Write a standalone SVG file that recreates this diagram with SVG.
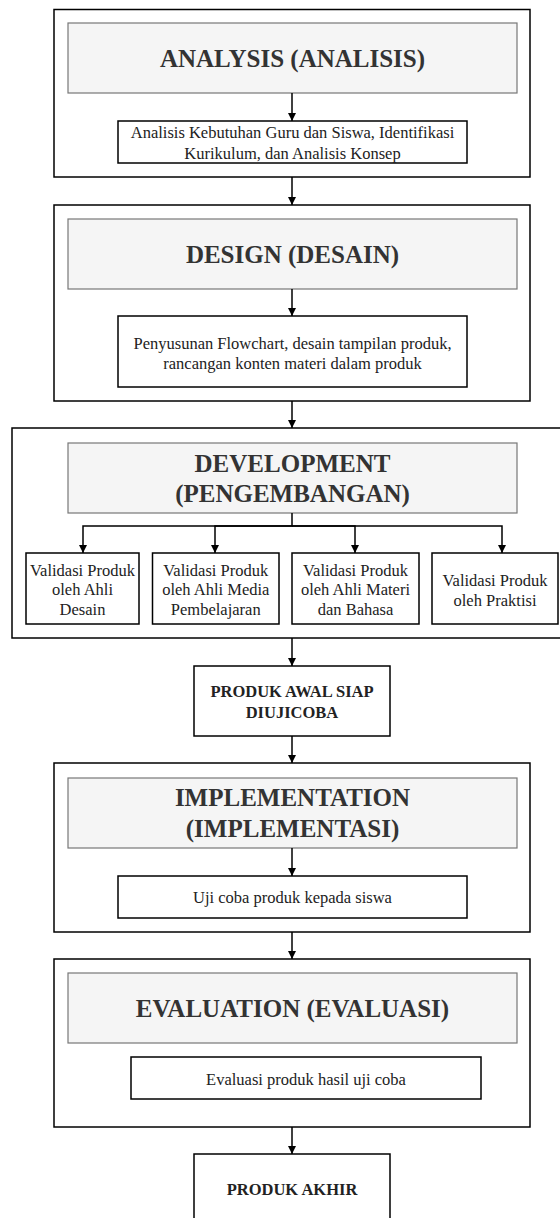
<svg xmlns="http://www.w3.org/2000/svg" width="560" height="1218" viewBox="0 0 560 1218">
<defs>
<marker id="ah" viewBox="0 0 10 10" refX="10" refY="5" markerWidth="5.5" markerHeight="5.5" orient="auto" markerUnits="strokeWidth">
<path d="M0,0 L10,5 L0,10 z" fill="#000"/>
</marker>
<style>
.outer{fill:#fff;stroke:#000;stroke-width:1.5}
.head{fill:#f5f5f5;stroke:#777;stroke-width:1.2}
.box{fill:#fff;stroke:#000;stroke-width:1.5}
text{font-family:'Liberation Serif',serif}
.ht{font-weight:bold;font-size:25px;fill:#333;text-anchor:middle}
.bt{font-weight:bold;font-size:16.5px;fill:#222;text-anchor:middle}
.t{font-size:16.5px;fill:#222;text-anchor:middle}
.c{fill:none;stroke:#000;stroke-width:1.5}
</style>
</defs>
<rect width="560" height="1218" fill="#fff"/>

<g font-family="Liberation Serif, serif">
<g id="analysis">
<rect class="outer" x="54" y="9.5" width="476" height="167.5"/>
<rect class="head" x="68" y="23" width="449" height="70"/>
<text class="ht" x="292.5" y="66.5">ANALYSIS (ANALISIS)</text>
</g>
<g id="analysis-task">
<rect class="box" x="118" y="121" width="349" height="42"/>
<text class="t" x="292.5" y="138">Analisis Kebutuhan Guru dan Siswa, Identifikasi</text>
<text class="t" x="292.5" y="158.5">Kurikulum, dan Analisis Konsep</text>
</g>

<g id="design">
<rect class="outer" x="54" y="205" width="476" height="196"/>
<rect class="head" x="68" y="219" width="449" height="70"/>
<text class="ht" x="292.5" y="263">DESIGN (DESAIN)</text>
</g>
<g id="design-task">
<rect class="box" x="118" y="316" width="349" height="71"/>
<text class="t" x="292.5" y="348.5">Penyusunan Flowchart, desain tampilan produk,</text>
<text class="t" x="292.5" y="368.5">rancangan konten materi dalam produk</text>
</g>

<g id="development">
<rect class="outer" x="12" y="428" width="560" height="210"/>
<rect class="head" x="68" y="443" width="449" height="70"/>
<text class="ht" x="292.5" y="471.5">DEVELOPMENT</text>
<text class="ht" x="292.5" y="501.5">(PENGEMBANGAN)</text>
</g>
<g id="val-desain">
<rect class="box" x="26" y="553" width="113" height="71"/>
<text class="t" x="82.5" y="575.5">Validasi Produk</text>
<text class="t" x="82.5" y="595">oleh Ahli</text>
<text class="t" x="82.5" y="615">Desain</text>
</g>
<g id="val-media">
<rect class="box" x="152.5" y="553" width="126.5" height="71"/>
<text class="t" x="215.75" y="575.5">Validasi Produk</text>
<text class="t" x="215.75" y="595">oleh Ahli Media</text>
<text class="t" x="215.75" y="615">Pembelajaran</text>
</g>
<g id="val-materi">
<rect class="box" x="292" y="553" width="127" height="71"/>
<text class="t" x="355.5" y="575.5">Validasi Produk</text>
<text class="t" x="355.5" y="595">oleh Ahli Materi</text>
<text class="t" x="355.5" y="615">dan Bahasa</text>
</g>
<g id="val-praktisi">
<rect class="box" x="432" y="553" width="126" height="71"/>
<text class="t" x="495" y="585.5">Validasi Produk</text>
<text class="t" x="495" y="606">oleh Praktisi</text>
</g>

<g id="produk-awal">
<rect class="box" x="194" y="666" width="196" height="70"/>
<text class="bt" x="292" y="697">PRODUK AWAL SIAP</text>
<text class="bt" x="292" y="718">DIUJICOBA</text>
</g>

<g id="implementation">
<rect class="outer" x="54" y="763" width="476" height="169"/>
<rect class="head" x="68" y="778" width="449" height="70"/>
<text class="ht" x="292.5" y="805.5">IMPLEMENTATION</text>
<text class="ht" x="292.5" y="837">(IMPLEMENTASI)</text>
</g>
<g id="implementation-task">
<rect class="box" x="118" y="876" width="349" height="42"/>
<text class="t" x="292.5" y="902.5">Uji coba produk kepada siswa</text>
</g>

<g id="evaluation">
<rect class="outer" x="54" y="959" width="476" height="168"/>
<rect class="head" x="68" y="973" width="449" height="70"/>
<text class="ht" x="292.5" y="1017">EVALUATION (EVALUASI)</text>
</g>
<g id="evaluation-task">
<rect class="box" x="131" y="1057" width="350" height="42"/>
<text class="t" x="306" y="1084.5">Evaluasi produk hasil uji coba</text>
</g>

<g id="produk-akhir">
<rect class="box" x="194" y="1154" width="196" height="72"/>
<text class="bt" x="292" y="1195">PRODUK AKHIR</text>
</g>
</g>

<g id="connectors">
<path class="c" d="M292,93 V121" marker-end="url(#ah)"/>
<path class="c" d="M292,177 V205" marker-end="url(#ah)"/>
<path class="c" d="M292,289 V316" marker-end="url(#ah)"/>
<path class="c" d="M292,401 V428" marker-end="url(#ah)"/>
<path class="c" d="M292,513 V526 H83 V553" marker-end="url(#ah)"/>
<path class="c" d="M292,526 H215 V553" marker-end="url(#ah)"/>
<path class="c" d="M292,526 H355 V553" marker-end="url(#ah)"/>
<path class="c" d="M292,526 H502 V553" marker-end="url(#ah)"/>
<path class="c" d="M292,638 V666" marker-end="url(#ah)"/>
<path class="c" d="M292,736 V763" marker-end="url(#ah)"/>
<path class="c" d="M292,848 V876" marker-end="url(#ah)"/>
<path class="c" d="M292,932 V959" marker-end="url(#ah)"/>
<path class="c" d="M292,1127 V1154" marker-end="url(#ah)"/>
</g>
</svg>
